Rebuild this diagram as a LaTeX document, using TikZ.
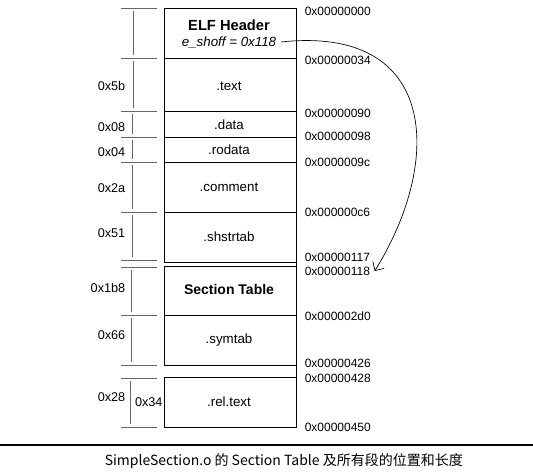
\documentclass[tikz,border=0pt]{standalone}
\usepackage{fontspec}
\setmainfont{Liberation Sans}
\newfontfamily\cjk{Noto Sans CJK SC}
\usetikzlibrary{arrows.meta}

\begin{document}
\begin{tikzpicture}[x=0.75pt,y=-0.75pt,line width=0.5pt,
		sec/.style={font=\fontsize{10}{12}\selectfont},
		addr/.style={anchor=west,font=\fontsize{9}{10}\selectfont},
		size/.style={anchor=east,font=\fontsize{9.5}{11}\selectfont},
		tick/.style={black!60}]
		
		\useasboundingbox (0,0) rectangle (533,473);
		
		% Section boxes: top / bottom
		\foreach \t/\b in {8/58, 58/111, 111/137, 137/162, 162/212, 212/262, 266/315, 315/365, 377/427} {
			\draw (164,\t) rectangle (296,\b);
		}
		\draw (296,8) -- (296,427);
		
		% Section names
		\node[sec,font=\fontsize{11}{12}\selectfont\bfseries] (hdr) at (229,25) {ELF Header};
		\node[sec,font=\fontsize{10}{12}\selectfont\itshape] (shoff) at (229,42) {e\_shoff = 0x118};
		\foreach \n/\y/\l in {text/86/.text, data/125/.data, rodata/150/.rodata, comment/187/.comment, shstrtab/237/.shstrtab, symtab/340/.symtab, reltext/402/.rel.text} {
			\node[sec] (\n) at (229,\y) {\l};
		}
		\node[sec,font=\fontsize{10.5}{12}\selectfont\bfseries] (shtab) at (229,290) {Section Table};
		
		% Offsets on the right
		\foreach \n/\y/\a in {a0/11/00000000, a34/60/00000034, a90/113/00000090, a98/136/00000098, a9c/162/0000009c, ac6/212/000000c6, a117/257/00000117, a118/271/00000118, a2d0/316/000002d0, a426/363/00000426, a428/378/00000428, a450/427/00000450} {
			\node[addr] (\n) at (300,\y) {0x\a};
		}
		
		% Sizes on the left
		\foreach \y in {8, 58, 111, 137, 162, 212, 260, 267, 315, 365, 378, 427} {
			\draw[tick] (121,\y) -- (157,\y);
		}
		\foreach \x/\t/\b in {133/8/58, 133/58/111, 132/111/137, 132/137/162, 132/162/212, 132/212/260, 131/267/315, 131/315/365, 130/378/427} {
			\draw[tick] (\x,\t+3) -- (\x,\b-3);
		}
		\foreach \y/\s in {86/5b, 127/08, 152/04, 188/2a, 233/51, 288/1b8, 335/66, 397/28} {
			\node[size] (sz\s) at (130,\y) {0x\s};
		}
		\node[size,anchor=west,inner sep=2pt] (sz34) at (132,402) {0x34};
		
		% e_shoff points to the section table
		\draw[-{Straight Barb[length=5pt]}] (shoff.east) .. controls +(157,-17) and +(69,-111) .. (a118.east);
		
		% Caption
		\draw[line width=1pt] (0,445) -- (533,445);
		\node[anchor=west,font=\cjk\fontsize{10.5}{12}\selectfont] (cap) at (100,461) {SimpleSection.o 的 Section Table 及所有段的位置和长度};
		
	\end{tikzpicture}
\end{document}
